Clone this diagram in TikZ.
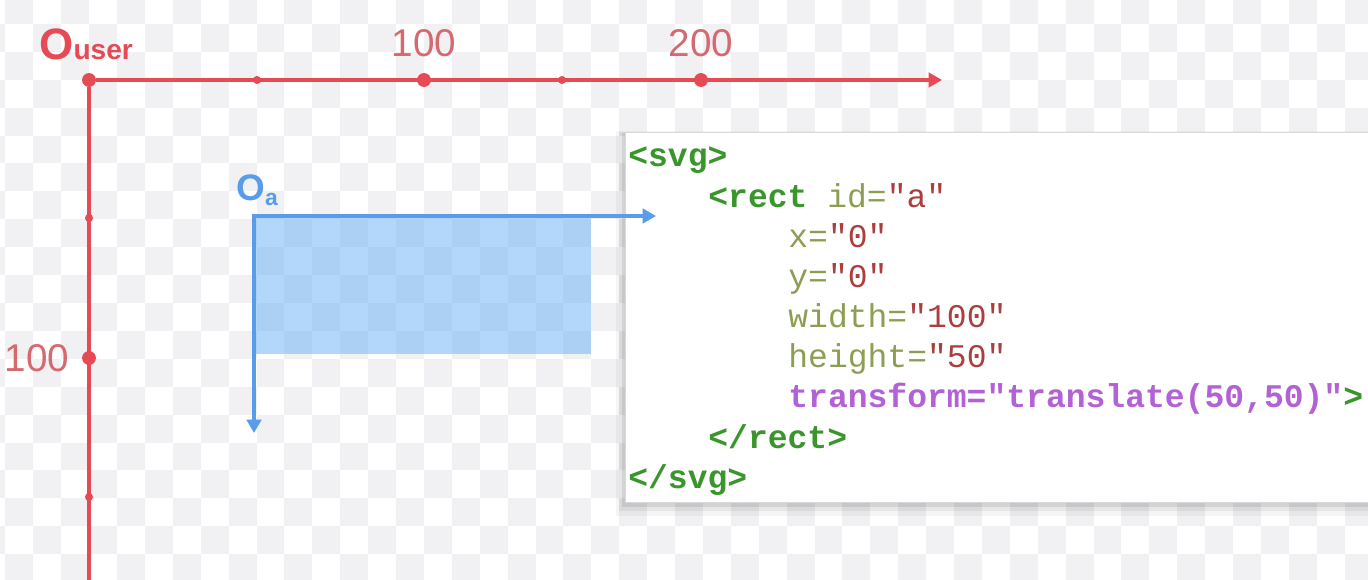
\documentclass[tikz,border=0pt]{standalone}
\usepackage{fontspec}
\setmainfont{Liberation Sans}
\setmonofont{Liberation Mono}
\usepackage{tikz}
\usetikzlibrary{positioning, arrows.meta}
\definecolor{axisred}{RGB}{230,74,85}
\definecolor{labelred}{RGB}{214,104,112}
\definecolor{axisblue}{RGB}{88,156,234}
\definecolor{rectblue}{RGB}{86,168,246}
\definecolor{checker}{RGB}{241,241,243}
\definecolor{taggreen}{RGB}{58,150,44}
\definecolor{attrolive}{RGB}{140,158,82}
\definecolor{valred}{RGB}{172,62,62}
\definecolor{kwpurple}{RGB}{178,98,212}
\tikzset{bigdot/.style={circle, fill=axisred, inner sep=0pt, minimum size=7.9pt},
  smalldot/.style={circle, fill=axisred, inner sep=0pt, minimum size=4.6pt},
  redaxis/.style={draw=axisred, line width=1.75pt},
  blueaxis/.style={draw=axisblue, line width=1.85pt},
  axtip/.style={-{Triangle[length=7.6pt,width=8.2pt]}},
  ticklabel/.style={text=labelred, font=\fontsize{22}{22}\selectfont, inner sep=0pt},
  rectbox/.style={fill=rectblue, fill opacity=0.45, inner sep=0pt, minimum width=6.74cm, minimum height=2.76cm},
  codebox/.style={fill=white, draw=black!15, line width=0.5pt, inner sep=0pt, minimum width=16cm, minimum height=7.4cm},
  codeline/.style={anchor=base west, inner sep=0pt, font=\ttfamily\fontsize{18.8}{20}\selectfont}}
\newcommand{\tagtxt}[1]{\textcolor{taggreen}{\bfseries #1}}
\newcommand{\attxt}[1]{\textcolor{attrolive}{#1}}
\newcommand{\valtxt}[1]{\textcolor{valred}{#1}}
\newcommand{\kwtxt}[1]{\textcolor{kwpurple}{\bfseries #1}}

\begin{document}
\begin{tikzpicture}[x=0.02cm, y=-0.02cm]
    \useasboundingbox (0,0) rectangle (1368,580);
    \fill[white] (0,0) rectangle (1368,580);
    % checkerboard
    \foreach \i in {-1,...,48}{
      \foreach \j in {0,...,20}{
        \pgfmathtruncatemacro{\odd}{mod(\i+\j+2,2)}
        \ifnum\odd=0 \fill[checker] (5.4+27.9*\i, -3.9+27.9*\j) rectangle ++(27.9,27.9);\fi
      }
    }

    % user axes
    \node[bigdot] (ou) at (89,80) {};
    \coordinate (xtip) at (942,80);
    \coordinate (ybot) at (89,590);
    \draw[redaxis, axtip] (ou) -- (xtip);
    \draw[redaxis] (ou) -- (ybot);
    \node[smalldot] (x50) at (257,80) {};
    \node[bigdot] (x100) at (424,80) {};
    \node[smalldot] (x150) at (562,80) {};
    \node[bigdot] (x200) at (701,80) {};
    \node[smalldot] (y50) at (89,218) {};
    \node[bigdot] (y100) at (89,358) {};
    \node[smalldot] (y150) at (89,497) {};
    \node[ticklabel, above=0.3cm of x100] (t100) {100};
    \node[ticklabel, above=0.3cm of x200] (t200) {200};
    \node[ticklabel, left=0.24cm of y100] (ty100) {100};
    \node[anchor=base west, text=axisred, inner sep=0pt] (ouser) at (39,60)
        {\bfseries\fontsize{25}{25}\selectfont O\fontsize{16}{16}\selectfont user};

    % rect a
    \coordinate (oa) at (254,216);
    \node[rectbox, anchor=north west] (recta) at (oa) {};

    % code panel
    \fill[black, opacity=0.04] (616,131) rectangle (1400,516);
    \fill[black, opacity=0.06] (619,132) rectangle (1400,511);
    \fill[black, opacity=0.08] (622,133) rectangle (1400,507);
    \node[codebox, anchor=north west] (code) at (625,132) {};
    \node[codeline] (l1) at (628,167) {\tagtxt{<svg>}};
    \node[codeline] (l2) at (708,208) {\tagtxt{<rect} \attxt{id=}\valtxt{"a"}};
    \node[codeline] (l3) at (788,248) {\attxt{x=}\valtxt{"0"}};
    \node[codeline] (l4) at (788,288) {\attxt{y=}\valtxt{"0"}};
    \node[codeline] (l5) at (788,328) {\attxt{width=}\valtxt{"100"}};
    \node[codeline] (l6) at (788,368) {\attxt{height=}\valtxt{"50"}};
    \node[codeline] (l7) at (788,408) {\kwtxt{transform="translate(50,50)"}\tagtxt{>}};
    \node[codeline] (l8) at (708,448) {\tagtxt{</rect>}};
    \node[codeline] (l9) at (628,488) {\tagtxt{</svg>}};

    % a axes
    \coordinate (axend) at (656,216);
    \coordinate (ayend) at (254,433);
    \draw[blueaxis, {Triangle[length=7.6pt,width=8.2pt]}-{Triangle[length=7.6pt,width=8.2pt]}] (axend) -- (oa) -- (ayend);
    \node[anchor=base west, text=axisblue, inner sep=0pt] (oalbl) at (236,201)
        {\bfseries\fontsize{21}{21}\selectfont O\raisebox{-0.12em}{\fontsize{13}{13}\selectfont a}};
\end{tikzpicture}
\end{document}
